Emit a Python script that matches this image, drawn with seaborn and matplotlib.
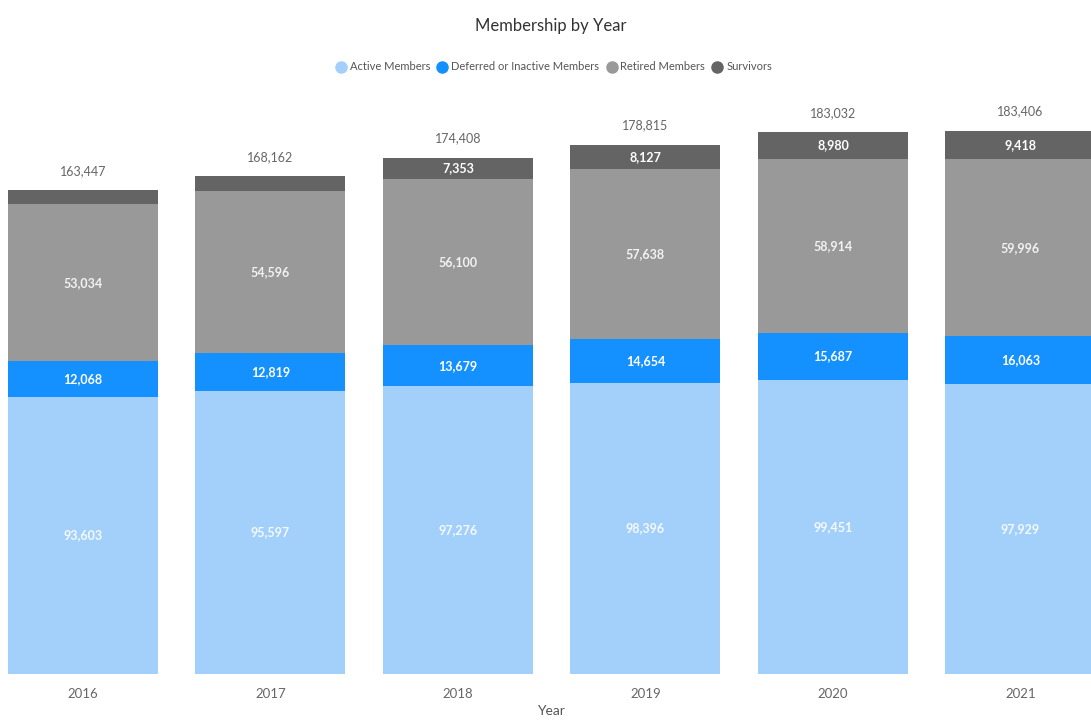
import matplotlib
matplotlib.use("Agg")
import matplotlib.pyplot as plt
from matplotlib.lines import Line2D
import seaborn as sns
import numpy as np

years = ["2016", "2017", "2018", "2019", "2020", "2021"]
active = [93603, 95597, 97276, 98396, 99451, 97929]
deferred = [12068, 12819, 13679, 14654, 15687, 16063]
retired = [53034, 54596, 56100, 57638, 58914, 59996]
survivors = [4742, 5150, 7353, 8127, 8980, 9418]
series_names = ["Active Members", "Deferred or Inactive Members", "Retired Members", "Survivors"]
colors = ["#A3D0FA", "#1590FF", "#999999", "#646464"]

sns.set_theme(style="white")
plt.rcParams['font.family'] = ['Lato', 'DejaVu Sans']

fig = plt.figure(figsize=(10.91, 7.21), dpi=100)
ax = fig.add_axes([8 / 1091, 47 / 721, 1 - 8 / 1091, (674 - 99.6) / 721])

series = [active, deferred, retired, survivors]
cum = np.cumsum(np.array(series), axis=0)
totals = cum[-1]

# draw from top (total) down so stacked appearance emerges
for i in range(3, -1, -1):
    sns.barplot(x=years, y=cum[i], color=colors[i], saturation=1, width=0.8,
                linewidth=0, errorbar=None, ax=ax)

ax.set_xlim(-0.4, 5.376)
ax.set_ylim(0, 194000)

# segment labels
label_colors = ["#F4F9FF", "#FFFFFF", "#F2F2F2", "#FFFFFF"]
for j in range(len(years)):
    bottom = 0
    for i in range(4):
        v = series[i][j]
        if v > 6000:
            ax.text(j, bottom + v / 2, f"{v:,}", ha="center", va="center",
                    color=label_colors[i], fontsize=9, fontweight="bold")
        bottom += v
    ax.text(j, totals[j] + 4500, f"{totals[j]:,}", ha="center", va="bottom",
            color="#666666", fontsize=9)

ax.set_yticks([])
ax.set_ylabel("")
ax.set_xlabel("")
ax.tick_params(axis="x", length=0, labelsize=9.5, labelcolor="#666666", pad=10)
for s in ax.spines.values():
    s.set_visible(False)

fig.text(551 / 1091, 1 - 711 / 721, "Year", ha="center", va="center",
         fontsize=10, color="#555555")

fig.text(551 / 1091, 1 - 26 / 721, "Membership by Year", ha="center", va="center",
         fontsize=12, color="#333333")

handles = [Line2D([0], [0], marker="o", linestyle="", markersize=8,
                  markerfacecolor=c, markeredgecolor=c) for c in colors]
fig.legend(handles, series_names, loc="center", bbox_to_anchor=(551 / 1091, 1 - 67 / 721),
           ncol=4, frameon=False, fontsize=8, handletextpad=-0.2, columnspacing=0.1,
           labelcolor="#555555")

fig.savefig("out.png", dpi=100)
